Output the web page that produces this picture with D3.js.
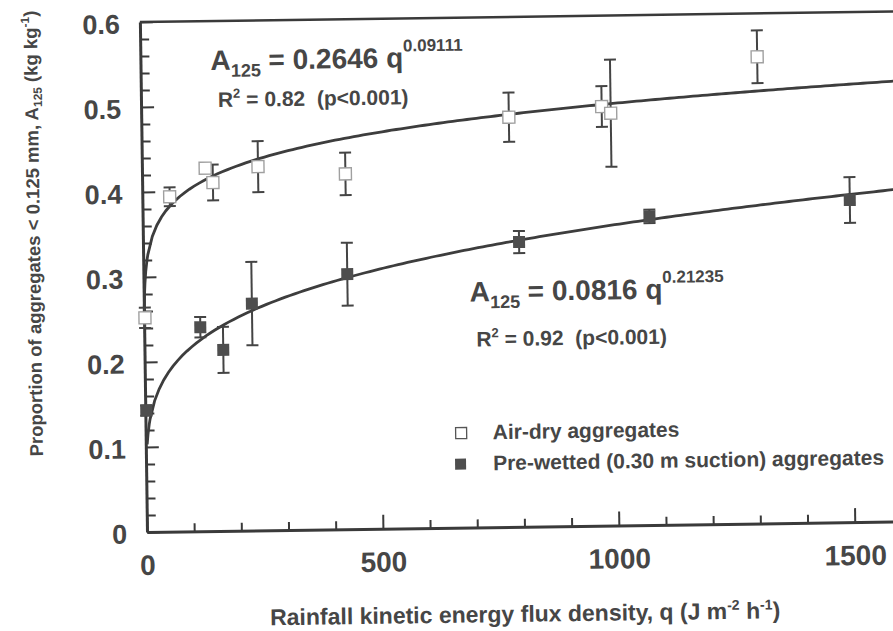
<!DOCTYPE html>
<html>
<head>
<meta charset="utf-8">
<script src="https://cdn.jsdelivr.net/npm/d3@7"></script>
<style>
  body { margin: 0; background: #fff; }
  svg text { font-family: "Liberation Sans", Arial, Helvetica, sans-serif; fill: #464646; white-space: pre; font-weight: bold; }
</style>
</head>
<body>
<div id="chart-area"></div>
<script>
// values
var airQ   = [2, 58, 134, 150, 246, 431, 779, 976, 995, 1307];
var airA   = [0.252, 0.394, 0.427, 0.410, 0.428, 0.418, 0.482, 0.493, 0.485, 0.549];
var airErr = [0.012, 0.011, 0.005, 0.021, 0.030, 0.025, 0.029, 0.024, 0.063, 0.031];

var wetQ   = [2, 119, 167, 229, 432, 797, 1074, 1499];
var wetA   = [0.143, 0.240, 0.213, 0.267, 0.300, 0.335, 0.363, 0.379];
var wetErr = [0.006, 0.012, 0.027, 0.049, 0.037, 0.013, 0.008, 0.027];

// fitted power laws printed on the chart: A = a * q^b
var airFit = [0.2646, 0.09111];
var wetFit = [0.0816, 0.21235];

var xTicks = [0, 500, 1000, 1500];
var xTickLabels = ["0", "500", "1000", "1500"];
var yTicks = [0, 0.1, 0.2, 0.3, 0.4, 0.5, 0.6];
var yTickLabels = ["0", "0.1", "0.2", "0.3", "0.4", "0.5", "0.6"];

var svg = d3.select("#chart-area").append("svg")
    .attr("width", 893)
    .attr("height", 631)
    .style("background-color", "#ffffff");

// the scanned figure is turned a little, so the plot is too
var g = svg.append("g").attr("transform", "translate(147,532) rotate(-0.8)");

var x = d3.scaleLinear().domain([0, 1600]).range([0, 755]);
var y = d3.scaleLinear().domain([0, 0.6]).range([0, -510]);

var ink = "#3a3a3a";

// frame (top and right)
g.append("line").attr("x1", 0).attr("x2", x(1600)).attr("y1", y(0.6)).attr("y2", y(0.6))
    .attr("stroke", ink).attr("stroke-width", 2.5);
g.append("line").attr("x1", x(1600)).attr("x2", x(1600)).attr("y1", y(0.6)).attr("y2", y(0))
    .attr("stroke", ink).attr("stroke-width", 2);

// y axis: minor ticks every 0.02, labels every 0.1, ticks pointing inward
var minorY = y.ticks(30).filter(function(d) { return d > 0 && d < 0.59 && Math.round(d * 50) % 5 != 0; });
g.append("g").call(d3.axisLeft(y).tickValues(minorY).tickSize(-9).tickSizeOuter(0).tickFormat(""))
    .call(function(a) { a.select(".domain").remove(); })
    .selectAll("line").attr("stroke", ink).attr("stroke-width", 2);

var yAxis = g.append("g")
    .style("color", ink)
    .call(d3.axisLeft(y).tickValues(yTicks).tickSize(-13).tickSizeOuter(0).tickPadding(20)
        .tickFormat(function(d, i) { return yTickLabels[i]; }));
yAxis.select(".domain").attr("stroke-width", 3);
yAxis.selectAll("line").attr("stroke-width", 2);
yAxis.selectAll("text").attr("font-size", 27).attr("font-family", null).attr("fill", null).attr("dy", "0.4em");

// x axis
var minorX = x.ticks(16).filter(function(d) { return d > 0 && d < 1600 && d % 500 != 0; });
g.append("g").call(d3.axisBottom(x).tickValues(minorX).tickSize(-8).tickSizeOuter(0).tickFormat(""))
    .call(function(a) { a.select(".domain").remove(); })
    .selectAll("line").attr("stroke", ink).attr("stroke-width", 2);

var xAxis = g.append("g")
    .style("color", ink)
    .call(d3.axisBottom(x).tickValues(xTicks).tickSize(-14).tickSizeOuter(0)
        .tickFormat(function(d, i) { return xTickLabels[i]; }));
xAxis.select(".domain").attr("stroke-width", 3);
xAxis.selectAll("line").attr("stroke-width", 2);
xAxis.selectAll("text").attr("font-size", 28).attr("font-family", null).attr("fill", null)
    .attr("y", 43).attr("dy", null);

// fitted curves
var line = d3.line().x(function(d) { return x(d[0]); }).y(function(d) { return y(d[1]); });
var qs = [0.5, 1, 2, 3, 5, 8].concat(d3.range(10, 1601, 10));
function curve(fit, qMin) {
    return qs.filter(function(q) { return q >= qMin; })
        .map(function(q) { return [q, fit[0] * Math.pow(q, fit[1])]; });
}
g.append("path").attr("d", line(curve(airFit, 0.5)))
    .attr("fill", "none").attr("stroke", "#3d3d3d").attr("stroke-width", 2.8);
g.append("path").attr("d", line(curve(wetFit, 3)))
    .attr("fill", "none").attr("stroke", "#3d3d3d").attr("stroke-width", 2.8);

// error bars
function errorBars(qv, av, ev) {
    qv.forEach(function(q, i) {
        var cx = x(q), lo = y(av[i] - ev[i]), hi = y(av[i] + ev[i]);
        g.append("line").attr("x1", cx).attr("x2", cx).attr("y1", lo).attr("y2", hi)
            .attr("stroke", "#444").attr("stroke-width", 2);
        [lo, hi].forEach(function(yy) {
            g.append("line").attr("x1", cx - 6).attr("x2", cx + 6).attr("y1", yy).attr("y2", yy)
                .attr("stroke", "#444").attr("stroke-width", 2);
        });
    });
}
errorBars(airQ, airA, airErr);
errorBars(wetQ, wetA, wetErr);

// markers
airQ.forEach(function(q, i) {
    g.append("rect")
        .attr("x", x(q) - 6).attr("y", y(airA[i]) - 6)
        .attr("width", 12).attr("height", 12)
        .attr("fill", "#ffffff").attr("stroke", "#a0a0a0").attr("stroke-width", 1.4);
});
wetQ.forEach(function(q, i) {
    g.append("rect")
        .attr("x", x(q) - 6).attr("y", y(wetA[i]) - 6)
        .attr("width", 12).attr("height", 12)
        .attr("fill", "#4e4e4e");
});

// equations
function equation(u, v, a, b) {
    var t = g.append("text").attr("x", u).attr("y", v).attr("font-size", 28);
    t.append("tspan").text("A");
    t.append("tspan").attr("font-size", 18).attr("dy", 7).text("125");
    t.append("tspan").attr("dy", -7).text(" = " + a + " q");
    t.append("tspan").attr("font-size", 17).attr("dy", -16).text(b);
}
function rsq(u, v, r) {
    var t = g.append("text").attr("x", u).attr("y", v).attr("font-size", 21);
    t.append("tspan").text("R");
    t.append("tspan").attr("font-size", 13).attr("dy", -9).text("2");
    t.append("tspan").attr("dy", 9).text(" = " + r + "  (p<0.001)");
}
equation(70, -461, "0.2646", "0.09111");
rsq(77, -424, "0.82");
equation(326, -226, "0.0816", "0.21235");
rsq(332, -181, "0.92");

// legend
g.append("rect").attr("x", 310).attr("y", -100).attr("width", 11).attr("height", 11)
    .attr("fill", "#fff").attr("stroke", "#555").attr("stroke-width", 1.3);
g.append("text").attr("x", 347).attr("y", -88).attr("font-size", 21).text("Air-dry aggregates");
g.append("rect").attr("x", 309).attr("y", -69).attr("width", 11).attr("height", 11)
    .attr("fill", "#4e4e4e");
g.append("text").attr("x", 347).attr("y", -57).attr("font-size", 21)
    .text("Pre-wetted (0.30 m suction) aggregates");

// axis titles
var xt = g.append("text").attr("x", 377).attr("y", 95).attr("font-size", 23)
    .attr("text-anchor", "middle");
xt.append("tspan").text("Rainfall kinetic energy flux density, q (J m");
xt.append("tspan").attr("font-size", 14).attr("dy", -9).text("-2");
xt.append("tspan").attr("dy", 9).text(" h");
xt.append("tspan").attr("font-size", 14).attr("dy", -9).text("-1");
xt.append("tspan").attr("dy", 9).text(")");

var yt = g.append("text").attr("transform", "translate(-103,-300) rotate(-90)")
    .attr("font-size", 18.5).attr("text-anchor", "middle");
yt.append("tspan").text("Proportion of aggregates < 0.125 mm, A");
yt.append("tspan").attr("font-size", 12).attr("dy", 4).text("125");
yt.append("tspan").attr("dy", -4).text(" (kg kg");
yt.append("tspan").attr("font-size", 12).attr("dy", -8).text("-1");
yt.append("tspan").attr("dy", 8).text(")");
</script>
</body>
</html>
